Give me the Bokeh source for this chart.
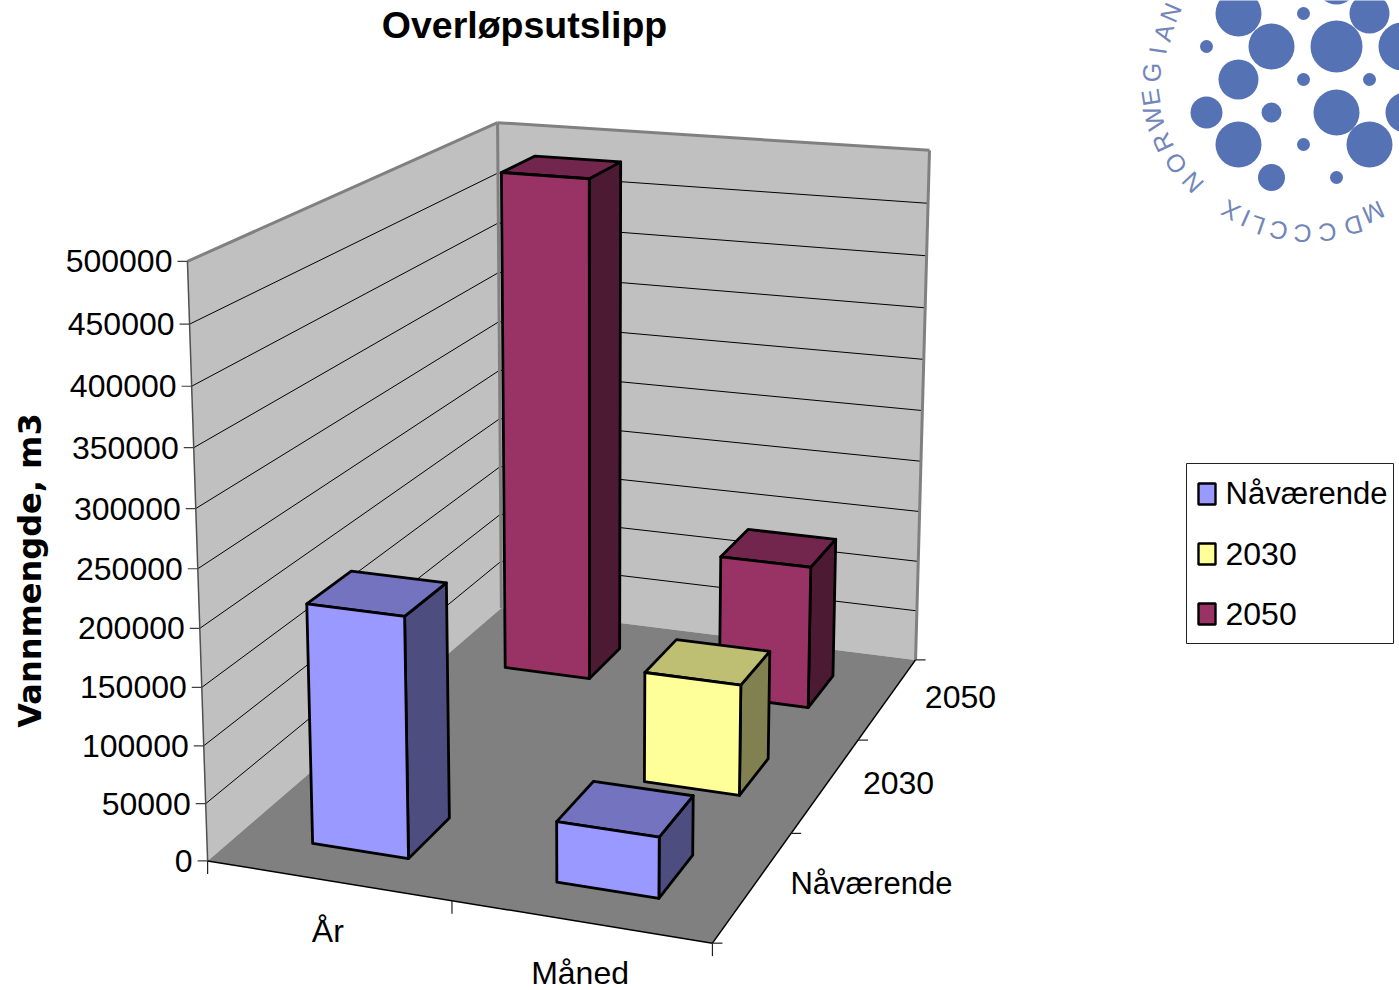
import numpy as np
from bokeh.core.properties import value
from bokeh.embed import file_html
from bokeh.plotting import figure
from bokeh.resources import INLINE

# Chart content
title = "Overløpsutslipp"
y_label = "Vannmengde, m3"
categories = ["År", "Måned"]
series_names = ["Nåværende", "2030", "2050"]
nåværende = [208500, 52000]
y2030 = [0, 100500]
y2050 = [483500, 136500]
y_ticks = [0, 50000, 100000, 150000, 200000, 250000, 300000, 350000, 400000, 450000, 500000]

front_colors = ["#9999ff", "#ffff99", "#993366"]
top_colors = ["#7373bf", "#bfbf73", "#73264d"]
side_colors = ["#4d4d80", "#808050", "#4d1a33"]
logo_blue = "#5572b5"

# Camera: corners of the plot box (category, depth, value) and where they land on the page.
Y_MAX = 500000
box_corners = [(0, 0, 0), (2, 0, 0), (2, 3, 0), (0, 3, 0), (0, 0, Y_MAX), (0, 3, Y_MAX), (2, 3, Y_MAX)]
page_corners = [(207, 860), (712, 943), (915, 659), (501, 608), (187, 261), (497, 122), (929, 150)]


def solve_camera(world, page):
    rows = []
    for (x, y, z), (u, v) in zip(world, page):
        z = z / Y_MAX
        rows.append([x, y, z, 1, 0, 0, 0, 0, -u * x, -u * y, -u * z, -u])
        rows.append([0, 0, 0, 0, x, y, z, 1, -v * x, -v * y, -v * z, -v])
    return np.linalg.svd(np.array(rows, float))[2][-1].reshape(3, 4)


CAM = solve_camera(box_corners, page_corners)


def project(x, y, z):
    h = CAM @ np.array([x, y, z / Y_MAX, 1.0])
    return h[0] / h[2], h[1] / h[2]


def poly(pts):
    pr = [project(*q) for q in pts]
    return [a for a, _ in pr], [b for _, b in pr]


p = figure(width=1399, height=990, x_range=(0, 1399), y_range=(990, 0), output_backend="svg",
           toolbar_location=None, min_border=0, outline_line_color=None,
           background_fill_color="white", border_fill_color="white")
p.axis.visible = False
p.grid.visible = False


def face(pts, fill, line=None, width=0):
    xs, ys = poly(pts)
    p.patch(xs, ys, fill_color=fill, line_color=line, line_width=width, line_join="round")


def seg(a, b, color="black", width=1.0):
    xa, ya = project(*a)
    xb, yb = project(*b)
    p.line([xa, xb], [ya, yb], line_color=color, line_width=width)


def label(x, y, s, size, align="center", font="Liberation Sans", angle=0.0, style="normal", color="black"):
    p.text([x], [y], text=[s], text_font=value(font), text_font_size=f"{size}px", text_align=align,
           text_baseline="middle", angle=angle, text_font_style=style, text_color=color)


# Walls and floor
face([(0, 0, 0), (0, 3, 0), (0, 3, Y_MAX), (0, 0, Y_MAX)], "#c0c0c0")
face([(0, 3, 0), (2, 3, 0), (2, 3, Y_MAX), (0, 3, Y_MAX)], "#c0c0c0")
for t in y_ticks[1:-1]:
    seg((0, 0, t), (0, 3, t))
    seg((0, 3, t), (2, 3, t))
face([(0, 0, 0), (2, 0, 0), (2, 3, 0), (0, 3, 0)], "#808080")

seg((0, 3, 0), (0, 3, Y_MAX), "#808080", 3)
seg((2, 3, 0), (2, 3, Y_MAX), "#808080", 3)
seg((0, 0, Y_MAX), (0, 3, Y_MAX), "#808080", 3)
seg((0, 3, Y_MAX), (2, 3, Y_MAX), "#808080", 3)
seg((0, 0, 0), (0, 0, Y_MAX), "#505050", 1.5)
seg((0, 0, 0), (2, 0, 0), "black", 1.5)
seg((2, 0, 0), (2, 3, 0), "black", 1.5)

# Value axis ticks and labels
for t in y_ticks:
    u, v = project(0, 0, t)
    p.line([u - 10, u], [v, v], line_color="#404040", line_width=1.2)
    label(u - 15, v, str(t), 32, align="right")

# Category and depth ticks with their labels
for i in range(3):
    u, v = project(i, 0, 0)
    p.line([u, u], [v, v + 13], line_color="#202020", line_width=1.2)
for d in range(4):
    u, v = project(2, d, 0)
    p.line([u, u + 10], [v, v], line_color="#202020", line_width=1.2)
for i, c in enumerate(categories):
    u, v = project(i + 0.5, 0, 0)
    label(u, v + 51, c, 32)
for d, s in enumerate(series_names):
    u, v = project(2, d + 0.5, 0)
    label(u + 37, v - 2, s, 31 if len(s) > 4 else 32, align="left")

# Bars, back row first
BAR_X = (0.305, 0.705)
BAR_D = (0.28, 0.68)
rows = [nåværende, y2030, y2050]
for d in (2, 1, 0):
    for i in range(2):
        h = rows[d][i]
        if not h:
            continue
        x0, x1 = i + BAR_X[0], i + BAR_X[1]
        d0, d1 = d + BAR_D[0], d + BAR_D[1]
        face([(x1, d0, 0), (x1, d1, 0), (x1, d1, h), (x1, d0, h)], side_colors[d], "black", 2.8)
        face([(x0, d0, h), (x1, d0, h), (x1, d1, h), (x0, d1, h)], top_colors[d], "black", 2.8)
        face([(x0, d0, 0), (x1, d0, 0), (x1, d0, h), (x0, d0, h)], front_colors[d], "black", 2.8)

# Title and value axis name
label(524, 24, title, 37.5, style="bold")
label(29, 570, y_label, 32, font="DejaVu Sans", style="bold", angle=np.pi / 2)

# Legend
p.quad(left=[1186], right=[1393], top=[463], bottom=[643], fill_color="white", line_color="#222222", line_width=1)
for k, s in enumerate(series_names):
    yc = 493 + 60 * k
    p.quad(left=[1198], right=[1215], top=[yc - 10], bottom=[yc + 11], fill_color=front_colors[k],
           line_color="black", line_width=2.4)
    label(1225, yc, s, 31 if len(s) > 4 else 32, align="left")

# Emblem in the top right corner
dots_x = [1238, 1271, 1336, 1238, 1206, 1271, 1336, 1238, 1369, 1271, 1303, 1336, 1303, 1369, 1206, 1303, 1369, 1402, 1405, 1336]
dots_y = [13, 46, 46, 79, 112, 112, 112, 144, 144, 177, 144, 177, 79, 79, 46, 13, 13, 46, 112, -16]
dots_r = [23, 23, 26, 20, 16, 10, 23, 23, 23, 13.5, 6.5, 6.5, 6.5, 6.5, 6.5, 6.5, 20, 24, 20, 20]
p.circle(dots_x, dots_y, radius=dots_r, fill_color=logo_blue, line_color=None)
ring_letters = list("NORWEGIAN") + list("XILCCCDM")
ring_x = [1192, 1175, 1162, 1153, 1150, 1151, 1157, 1163, 1170, 1230, 1245, 1257, 1278, 1302, 1327, 1353, 1373]
ring_y = [182, 163, 142, 118, 97, 72, 50, 32, 12, 210, 218, 225, 230, 233, 232, 225, 212]
for ch, lx, ly in zip(ring_letters, ring_x, ring_y):
    ang = np.arctan2(-(ly - 72), lx - 1310) - np.pi / 2
    label(lx, ly, ch, 25, angle=ang, color="#7286ba")

open("out.html", "w").write(file_html(p, INLINE))
